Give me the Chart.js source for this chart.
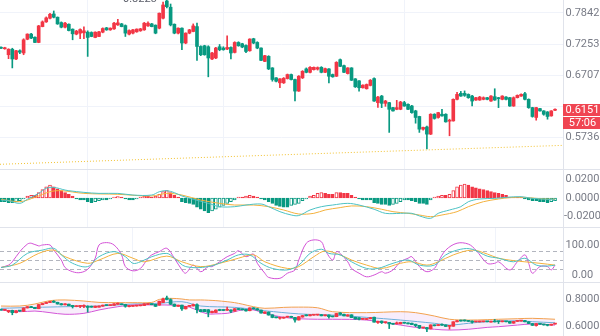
<!DOCTYPE html>
<html>
<head>
<meta charset="utf-8">
<script src="https://cdn.jsdelivr.net/npm/chart.js@4.4.1/dist/chart.umd.min.js"></script>
<style>
  html, body { margin: 0; padding: 0; background: #ffffff; }
  #wrap { position: relative; width: 600px; height: 336px; overflow: hidden; }
  #wrap canvas { position: absolute; left: 0; }
</style>
</head>
<body>
<div id="wrap">
  <canvas id="main" width="600" height="169" style="top:0"></canvas>
  <canvas id="macd" width="600" height="58" style="top:169px"></canvas>
  <canvas id="kdj" width="600" height="55" style="top:227px"></canvas>
  <canvas id="boll" width="600" height="54" style="top:282px"></canvas>
</div>
<script>
// ===== DATA =====
const opens = [0.7195,0.7168,0.7061,0.7159,0.6986,0.7132,0.7092,0.7341,0.7436,0.7378,
  0.7282,0.7578,0.7668,0.7739,0.7822,0.7758,0.7655,0.7567,0.7623,0.7529,
  0.7436,0.7454,0.7460,0.7473,0.7466,0.7374,0.7392,0.7473,0.7554,0.7516,
  0.7535,0.7610,0.7629,0.7597,0.7436,0.7455,0.7479,0.7498,0.7516,0.7591,
  0.7629,0.7605,0.7548,0.7739,0.8081,0.7955,0.7623,0.7455,0.7548,0.7272,
  0.7455,0.7485,0.7578,0.7209,0.7222,0.7204,0.6986,0.7004,0.7204,0.7181,
  0.7163,0.7191,0.7102,0.7282,0.7258,0.7227,0.7132,0.7350,0.7282,0.7181,
  0.6944,0.7032,0.6831,0.6663,0.6580,0.6580,0.6651,0.6718,0.6635,0.6445,
  0.6663,0.6814,0.6756,0.6802,0.6811,0.6841,0.6756,0.6814,0.6718,0.6690,
  0.6974,0.6870,0.6735,0.6831,0.6646,0.6613,0.6499,0.6483,0.6537,0.6651,
  0.6261,0.6365,0.6250,0.6261,0.6183,0.6157,0.6157,0.6261,0.6234,0.6208,
  0.6132,0.6047,0.5858,0.5890,0.5785,0.6081,0.6032,0.6081,0.6081,0.5976,
  0.5980,0.6313,0.6408,0.6408,0.6392,0.6365,0.6302,0.6302,0.6313,0.6339,
  0.6286,0.6355,0.6339,0.6313,0.6349,0.6339,0.6208,0.6339,0.6365,0.6403,
  0.6313,0.6183,0.6032,0.6168,0.6132,0.6116,0.6056,0.6142];
const highs = [0.7204,0.7195,0.7168,0.7177,0.7141,0.7150,0.7350,0.7442,0.7451,0.7387,
  0.7601,0.7687,0.7764,0.7832,0.7881,0.7764,0.7668,0.7658,0.7629,0.7535,
  0.7507,0.7535,0.7573,0.7498,0.7479,0.7479,0.7488,0.7554,0.7563,0.7554,
  0.7658,0.7719,0.7639,0.7610,0.7516,0.7526,0.7535,0.7544,0.7658,0.7668,
  0.7639,0.7610,0.7842,0.8061,0.8223,0.8020,0.7629,0.7554,0.7554,0.7460,
  0.7526,0.7629,0.7643,0.7222,0.7231,0.7222,0.7105,0.7195,0.7245,0.7204,
  0.7405,0.7204,0.7295,0.7295,0.7267,0.7240,0.7350,0.7359,0.7295,0.7186,
  0.7052,0.7044,0.6836,0.6668,0.6651,0.6668,0.6727,0.6727,0.6643,0.6701,
  0.6785,0.6831,0.6853,0.6848,0.6848,0.6853,0.6828,0.6819,0.6727,0.6939,
  0.6986,0.6879,0.6836,0.6836,0.6651,0.6618,0.6548,0.6561,0.6635,0.6663,
  0.6360,0.6376,0.6297,0.6266,0.6188,0.6297,0.6281,0.6281,0.6242,0.6219,
  0.6142,0.6051,0.5887,0.5902,0.6089,0.6089,0.6111,0.6157,0.6089,0.6006,
  0.6321,0.6424,0.6440,0.6448,0.6400,0.6376,0.6344,0.6360,0.6352,0.6344,
  0.6371,0.6483,0.6344,0.6371,0.6355,0.6344,0.6352,0.6384,0.6400,0.6424,
  0.6321,0.6188,0.6188,0.6172,0.6137,0.6122,0.6137,0.6165];
const lows = [0.7168,0.7159,0.6991,0.6831,0.6974,0.7079,0.7061,0.7331,0.7350,0.7277,
  0.7277,0.7573,0.7658,0.7725,0.7745,0.7620,0.7554,0.7554,0.7498,0.7331,
  0.7423,0.7350,0.7350,0.7031,0.7387,0.7368,0.7387,0.7460,0.7507,0.7507,
  0.7526,0.7601,0.7573,0.7392,0.7423,0.7442,0.7470,0.7488,0.7507,0.7582,
  0.7573,0.7442,0.7535,0.7725,0.7941,0.7591,0.7442,0.7442,0.7150,0.7258,
  0.7442,0.7479,0.6962,0.7044,0.7052,0.6680,0.6974,0.6991,0.7132,0.7141,
  0.7150,0.6986,0.7092,0.7213,0.7186,0.7097,0.7123,0.7258,0.7168,0.6956,
  0.6939,0.6802,0.6607,0.6594,0.6499,0.6569,0.6643,0.6627,0.6286,0.6440,
  0.6651,0.6747,0.6747,0.6794,0.6794,0.6747,0.6752,0.6580,0.6673,0.6685,
  0.6853,0.6752,0.6727,0.6618,0.6504,0.6445,0.6493,0.6477,0.6529,0.6281,
  0.6188,0.6183,0.6203,0.5810,0.6127,0.6150,0.6150,0.6203,0.6150,0.6096,
  0.5946,0.5810,0.5843,0.5573,0.5778,0.6006,0.6021,0.6051,0.5961,0.5761,
  0.5976,0.6305,0.6360,0.6360,0.6329,0.6208,0.6297,0.6297,0.6305,0.6305,
  0.6281,0.6297,0.6183,0.6305,0.6305,0.6203,0.6203,0.6334,0.6360,0.6305,
  0.6172,0.6036,0.5991,0.6127,0.6066,0.6006,0.6051,0.6137];
const closes = [0.7177,0.7186,0.7159,0.6986,0.7132,0.7106,0.7331,0.7436,0.7363,0.7282,
  0.7591,0.7668,0.7745,0.7816,0.7758,0.7629,0.7567,0.7643,0.7503,0.7442,
  0.7492,0.7522,0.7498,0.7374,0.7392,0.7473,0.7479,0.7541,0.7516,0.7548,
  0.7643,0.7649,0.7578,0.7455,0.7503,0.7516,0.7530,0.7535,0.7643,0.7643,
  0.7578,0.7455,0.7836,0.8000,0.7967,0.7610,0.7455,0.7548,0.7272,0.7455,
  0.7516,0.7591,0.7209,0.7061,0.7061,0.7004,0.7092,0.7181,0.7150,0.7150,
  0.7191,0.7092,0.7282,0.7222,0.7199,0.7119,0.7344,0.7272,0.7181,0.6962,
  0.7044,0.6814,0.6635,0.6607,0.6646,0.6656,0.6718,0.6635,0.6445,0.6690,
  0.6773,0.6756,0.6841,0.6841,0.6836,0.6756,0.6819,0.6690,0.6680,0.6927,
  0.6858,0.6756,0.6831,0.6623,0.6515,0.6499,0.6542,0.6553,0.6623,0.6286,
  0.6349,0.6250,0.6286,0.6157,0.6132,0.6183,0.6270,0.6208,0.6157,0.6106,
  0.6032,0.5858,0.5883,0.5785,0.6081,0.6017,0.6106,0.6055,0.5966,0.5984,
  0.6313,0.6392,0.6365,0.6376,0.6339,0.6286,0.6339,0.6349,0.6339,0.6313,
  0.6365,0.6302,0.6324,0.6365,0.6313,0.6208,0.6339,0.6376,0.6392,0.6313,
  0.6183,0.6047,0.6183,0.6132,0.6081,0.6047,0.6132,0.6151];

const priceTicks = [0.7842, 0.7253, 0.6707, 0.6203, 0.5736];
const timeGrid = [10.88, 35.02, 82.8, 131.3];      // day separators (candle index)
const trendVals = [0.5363, 0.5624];                 // dotted support line, left / right edge
const lastPriceText = '0.6151';
const countdownText = '57:06';
const peakText = '0.8223';
const peakIndex = 44;

// MACD
const macdTicks = [0.02, 0, -0.02];
const macdHist = [-0.004,-0.004,-0.005,-0.005,-0.004,-0.003,-0.001,0.002,0.003,0.003,
  0.006,0.009,0.012,0.014,0.012,0.010,0.008,0.006,0.004,0.002,
  -0.001,-0.002,-0.002,-0.004,-0.005,-0.004,-0.003,-0.002,-0.002,-0.001,
  0.001,0.0015,0.001,-0.001,-0.002,-0.002,-0.001,0.001,0.002,0.002,
  0.001,0.002,0.004,0.007,0.008,0.006,0.003,0.001,-0.004,-0.005,
  -0.006,-0.007,-0.010,-0.012,-0.014,-0.016,-0.014,-0.012,-0.010,-0.008,
  -0.006,-0.004,-0.002,0.001,0.001,0.002,0.003,0.002,0.001,-0.001,
  -0.002,-0.004,-0.006,-0.008,-0.009,-0.010,-0.010,-0.008,-0.007,-0.006,
  -0.003,-0.001,0.002,0.003,0.005,0.006,0.005,0.004,0.004,0.006,
  0.006,0.005,0.005,0.003,0.001,-0.001,-0.002,-0.002,-0.002,-0.005,
  -0.006,-0.007,-0.007,-0.008,-0.007,-0.006,-0.004,-0.002,-0.002,-0.003,
  -0.004,-0.006,-0.006,-0.007,-0.002,0.001,0.002,0.003,0.003,0.004,
  0.008,0.012,0.014,0.015,0.014,0.012,0.011,0.010,0.009,0.008,
  0.007,0.006,0.005,0.004,0.003,0.001,0.001,0.001,0.0005,-0.001,
  -0.002,-0.003,-0.003,-0.004,-0.004,-0.005,-0.004,-0.003];
const difIdx = [0,2,5,7,10,12,14,17,18,22,26,31,35,40,42,44,46,48,51,55,
  58,62,65,69,71,74,77,79,82,85,88,92,95,99,102,106,109,111,114,116,
  119,122,124,127,131,134,138,141,145,147];
const difVals = [-0.0022,-0.0029,-0.0058,-0.0014,0.0050,0.0105,0.0115,0.0086,0.0079,0.0061,
  0.0050,0.0050,0.0032,0.0032,0.0068,0.0079,0.0058,0.0022,-0.0014,-0.0058,
  -0.0094,-0.0094,-0.0076,-0.0065,-0.0094,-0.0148,-0.0184,-0.0190,-0.0130,-0.0094,
  -0.0076,-0.0058,-0.0076,-0.0122,-0.0166,-0.0166,-0.0166,-0.0194,-0.0220,-0.0166,
  -0.0130,-0.0094,-0.0040,-0.0011,-0.0004,0.0007,0.0014,-0.0004,-0.0014,-0.0022];
const deaIdx = [0,5,9,13,16,22,31,40,44,48,53,58,62,67,71,75,79,83,86,90,
  93,97,101,104,108,111,114,117,121,124,128,132,135,139,142,146,147];
const deaVals = [-0.0014,-0.0040,0.0007,0.0068,0.0079,0.0050,0.0040,0.0022,0.0050,0.0032,
  -0.0022,-0.0058,-0.0076,-0.0076,-0.0094,-0.0130,-0.0173,-0.0166,-0.0130,-0.0104,
  -0.0086,-0.0094,-0.0122,-0.0148,-0.0166,-0.0184,-0.0202,-0.0184,-0.0148,-0.0094,
  -0.0040,-0.0011,0.0004,0.0007,-0.0004,-0.0014,-0.0014];

// KDJ
const kdjTicks = [100, 0];
const kdjLevels = [80, 50, 20];
const kIdx = [0,3,7,11,14,16,19,23,26,30,33,35,37,40,44,46,49,55,60,63,
  66,69,72,76,79,82,85,87,90,93,97,100,104,108,111,115,118,122,125,129,
  132,136,139,142,145,147];
const kVals = [25,33,72,83,89,67,39,28,61,78,61,39,44,61,72,56,28,28,50,67,
  67,39,22,17,33,72,86,72,67,44,22,22,39,50,33,33,67,86,86,63,
  56,44,56,33,30,33];
const dIdx = [0,5,10,14,17,23,26,31,35,38,44,48,53,58,63,67,70,76,79,83,
  86,90,93,97,101,106,109,113,116,120,125,129,132,136,139,143,147];
const dVals = [25,39,72,83,61,39,50,72,56,44,63,44,28,39,56,67,44,22,28,61,
  80,67,50,33,22,39,44,33,44,67,83,70,56,48,44,39,33];
const jIdx = [0,2,3,5,7,8,10,11,13,14,16,17,19,21,23,25,26,28,30,32,
  33,35,37,39,40,42,44,46,48,49,51,53,55,56,58,60,62,63,65,67,
  68,70,71,74,76,78,79,81,83,85,86,88,89,90,92,93,95,97,99,101,
  102,104,106,108,109,111,113,115,116,118,121,124,126,129,131,132,135,137,139,140,
  141,143,145,146,147];
const jVals = [25,33,44,78,103,106,97,100,100,83,50,25,11,8,19,56,100,108,100,67,
  28,14,22,56,67,78,89,56,17,6,33,11,28,28,44,61,72,81,61,70,
  39,6,-8,-11,6,17,50,106,117,111,83,50,78,72,44,22,6,-6,0,11,
  6,17,44,56,61,28,11,22,44,83,106,103,83,39,39,44,17,44,67,39,
  6,28,28,17,33];

// Bands panel
const bollTicks = [0.8, 0.6];
const bandIdx = [0,5,9,13,17,22,26,31,35,40,42,45,48,50,53,55,57,60,62,64,
  67,70,75,79,84,88,97,106,110,115,119,124,129,132,137,141,147];
const bandUp = [0.748,0.748,0.763,0.788,0.793,0.785,0.775,0.773,0.773,0.775,
  0.797,0.805,0.800,0.793,0.793,0.791,0.788,0.780,0.773,0.762,
  0.743,0.731,0.738,0.740,0.735,0.706,0.699,0.706,0.699,0.674,
  0.650,0.644,0.647,0.650,0.654,0.657,0.650];
const bandLow = [0.719,0.706,0.711,0.699,0.687,0.694,0.719,0.743,0.756,0.756,
  0.756,0.755,0.748,0.740,0.706,0.689,0.690,0.694,0.706,0.719,
  0.719,0.694,0.664,0.654,0.650,0.650,0.644,0.607,0.590,0.576,
  0.570,0.576,0.590,0.595,0.607,0.615,0.607];
const midIdx = [0,9,17,26,35,42,48,53,62,70,79,88,97,106,115,119,124,129,137,141,147];
const bandMid = [0.731,0.738,0.743,0.748,0.763,0.768,0.780,0.748,0.738,0.713,
  0.690,0.681,0.664,0.644,0.620,0.607,0.620,0.632,0.639,0.632,0.624];

// ===== STYLE =====
const UP = '#f23645';
const DOWN = '#089981';
const GRID = '#f0f3fa';
const LINE = '#e0e3eb';
const TEXT = '#787b86';
const FONT = '11px Roboto, "Noto Sans", sans-serif';
const TEAL = '#4cc2c4';
const ORANGE = '#f3b13d';
const MAGENTA = '#d352d6';
const X_MIN = -0.265;
const X_MAX = 149.11;

const candleIdx = closes.map((_, i) => i);
const candleCol = closes.map((c, i) => c >= opens[i] ? UP : DOWN);

// ===== HELPERS =====
function xScale() {
    return {
        type: 'linear', min: X_MIN, max: X_MAX, offset: false,
        grid: { color: GRID, drawTicks: false },
        border: { display: false },
        ticks: { display: false },
        afterBuildTicks: s => { s.ticks = timeGrid.map(v => ({ value: v })); },
        afterFit: s => { s.height = 0; }
    };
}

function yScale(extra) {
    return Object.assign({
        position: 'right',
        grid: { display: false, drawTicks: false },
        border: { color: LINE },
        ticks: { display: false },
        afterFit: s => { s.width = 37; }
    }, extra);
}

function pairs(idx, vals) {
    return idx.map((x, i) => ({ x: x, y: vals[i] }));
}

function candleSets() {
    return [
        { type: 'bar', data: candleIdx.map(i => ({ x: i, y: [lows[i], highs[i]] })),
          backgroundColor: candleCol, barThickness: 1, grouped: false, order: 2 },
        { type: 'bar', data: candleIdx.map(i => ({ x: i, y: [opens[i], closes[i]] })),
          backgroundColor: candleCol, barThickness: 3, grouped: false, minBarLength: 1, order: 1 }
    ];
}

function lineSet(data, color, extra) {
    return Object.assign({
        type: 'line', data: data, borderColor: color, borderWidth: 1,
        pointRadius: 0, tension: 0.35, fill: false, order: 0
    }, extra);
}

// right axis labels, drawn centred in the axis strip
function axisLabels(values, fmt) {
    return {
        id: 'axisLabels',
        afterDraw(chart) {
            const y = chart.scales.y, ctx = chart.ctx;
            ctx.save();
            ctx.font = FONT;
            ctx.fillStyle = TEXT;
            ctx.textAlign = 'center';
            ctx.textBaseline = 'middle';
            values.forEach(v => ctx.fillText(fmt(v), (y.left + y.right) / 2 + 1, y.getPixelForValue(v)));
            ctx.restore();
        }
    };
}

// thin line along the top of a sub pane
const separator = {
    id: 'separator',
    afterDraw(chart) {
        const ctx = chart.ctx;
        ctx.save();
        ctx.strokeStyle = LINE;
        ctx.lineWidth = 1;
        ctx.beginPath();
        ctx.moveTo(0, 0.5);
        ctx.lineTo(chart.width, 0.5);
        ctx.stroke();
        ctx.restore();
    }
};

const baseOptions = {
    responsive: false,
    animation: false,
    events: [],
    layout: { padding: 0 },
    plugins: { legend: { display: false }, tooltip: { enabled: false } }
};

// ===== MAIN PRICE PANE =====
const priceBoxes = {
    id: 'priceBoxes',
    afterDraw(chart) {
        const y = chart.scales.y, x = chart.scales.x, ctx = chart.ctx;
        const py = Math.round(y.getPixelForValue(closes[closes.length - 1]));
        ctx.save();
        ctx.fillStyle = '#f04552';
        ctx.fillRect(y.left, py - 6, y.right - y.left, 12);
        ctx.fillRect(y.left, py + 7, y.right - y.left, 12);
        ctx.fillStyle = '#ffffff';
        ctx.font = FONT;
        ctx.textAlign = 'center';
        ctx.textBaseline = 'middle';
        ctx.fillText(lastPriceText, (y.left + y.right) / 2 + 1, py);
        ctx.fillText(countdownText, (y.left + y.right) / 2 + 1, py + 13);
        // max marker, mostly cut off by the top edge
        ctx.fillStyle = '#5d606b';
        ctx.textAlign = 'right';
        ctx.textBaseline = 'alphabetic';
        ctx.fillText(peakText, x.getPixelForValue(peakIndex) - 10, 1.5);
        ctx.restore();
    }
};

new Chart(document.getElementById('main'), {
    type: 'bar',
    data: {
        datasets: candleSets().concat([
            lineSet([{ x: X_MIN, y: trendVals[0] }, { x: X_MAX, y: trendVals[1] }], '#f2c230',
                    { borderDash: [1, 2], tension: 0 })
        ])
    },
    options: Object.assign({}, baseOptions, {
        scales: {
            x: xScale(),
            y: yScale({
                type: 'logarithmic', min: 0.5323, max: 0.8101,
                grid: { display: true, color: GRID, drawTicks: false },
                afterBuildTicks: s => { s.ticks = priceTicks.map(v => ({ value: v })); }
            })
        }
    }),
    plugins: [axisLabels(priceTicks.filter(v => v !== 0.6203), v => v.toFixed(4)), priceBoxes]
});

// ===== MACD PANE =====
const histFill = macdHist.map((v, i) => (i > 0 && v > macdHist[i - 1]) ? '#ffffff' : (v >= 0 ? UP : DOWN));
const histLine = macdHist.map(v => v >= 0 ? UP : DOWN);

new Chart(document.getElementById('macd'), {
    type: 'bar',
    data: {
        datasets: [
            { type: 'bar', data: candleIdx.map(i => ({ x: i, y: macdHist[i] })),
              backgroundColor: histFill, borderColor: histLine, borderWidth: 1,
              borderSkipped: false, barThickness: 3, minBarLength: 1, order: 2 },
            lineSet(pairs(difIdx, difVals), TEAL),
            lineSet(pairs(deaIdx, deaVals), ORANGE)
        ]
    },
    options: Object.assign({}, baseOptions, {
        scales: { x: xScale(), y: yScale({ type: 'linear', min: -0.0314, max: 0.0314 }) }
    }),
    plugins: [axisLabels(macdTicks, v => v.toFixed(4)), separator]
});

// ===== KDJ PANE =====
const kdjGuides = {
    id: 'kdjGuides',
    beforeDatasetsDraw(chart) {
        const y = chart.scales.y, area = chart.chartArea, ctx = chart.ctx;
        ctx.save();
        ctx.strokeStyle = '#b2b5be';
        ctx.lineWidth = 1;
        ctx.setLineDash([4, 3]);
        kdjLevels.forEach(v => {
            const py = Math.round(y.getPixelForValue(v)) + 0.5;
            ctx.beginPath();
            ctx.moveTo(area.left, py);
            ctx.lineTo(area.right, py);
            ctx.stroke();
        });
        ctx.restore();
    }
};

new Chart(document.getElementById('kdj'), {
    type: 'line',
    data: {
        datasets: [
            lineSet(pairs(kIdx, kVals), TEAL),
            lineSet(pairs(dIdx, dVals), ORANGE),
            lineSet(pairs(jIdx, jVals), MAGENTA)
        ]
    },
    options: Object.assign({}, baseOptions, {
        scales: { x: xScale(), y: yScale({ type: 'linear', min: -23.3, max: 160 }) }
    }),
    plugins: [kdjGuides, axisLabels(kdjTicks, v => v.toFixed(2)), separator]
});

// ===== BAND PANE =====
new Chart(document.getElementById('boll'), {
    type: 'bar',
    data: {
        datasets: [
            lineSet(pairs(bandIdx, bandUp), '#f2a14e', { fill: '+1', backgroundColor: 'rgba(214,140,228,0.16)', order: 3 }),
            lineSet(pairs(bandIdx, bandLow), MAGENTA, { order: 3 }),
            lineSet(pairs(midIdx, bandMid), '#58b6d8', { order: 3 })
        ].concat(candleSets())
    },
    options: Object.assign({}, baseOptions, {
        scales: { x: xScale(), y: yScale({ type: 'linear', min: 0.526, max: 0.926 }) }
    }),
    plugins: [axisLabels(bollTicks, v => v.toFixed(4)), separator]
});
</script>
</body>
</html>
